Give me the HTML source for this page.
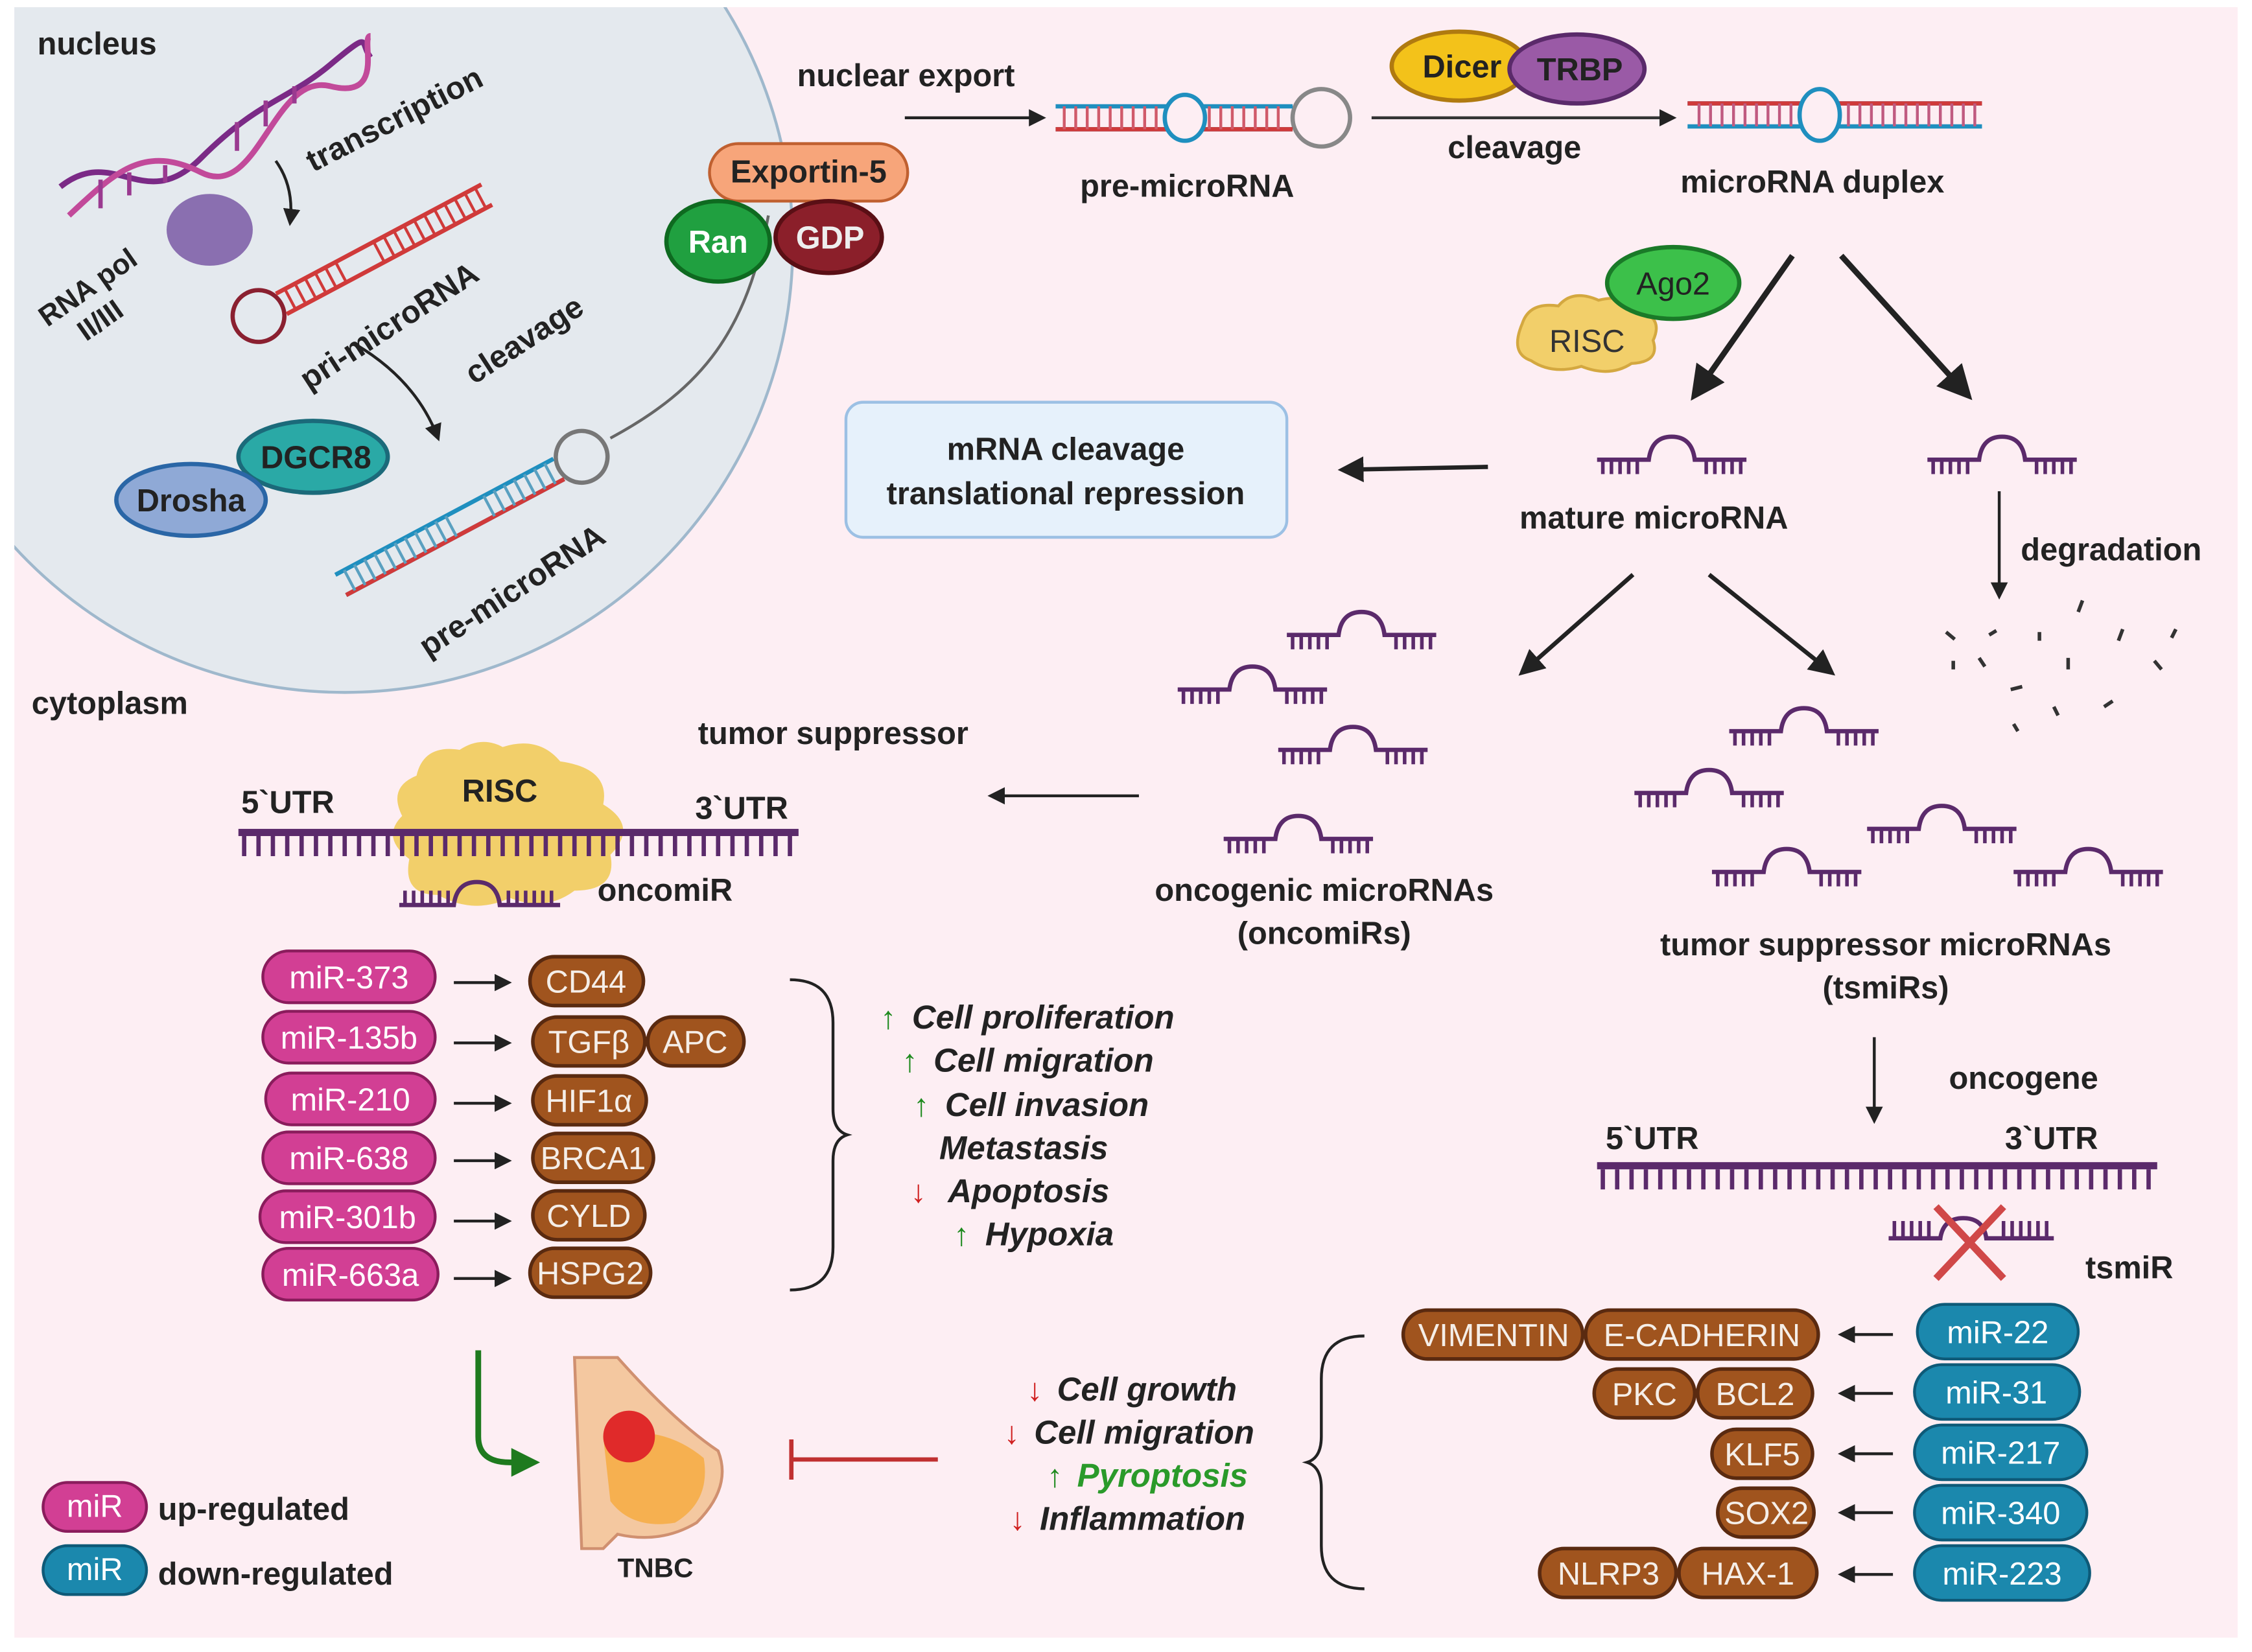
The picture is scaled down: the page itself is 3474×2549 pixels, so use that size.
<!DOCTYPE html>
<html><head><meta charset="utf-8"><style>
html,body{margin:0;padding:0;background:#fff}
svg{display:block}
text{font-family:"Liberation Sans",sans-serif}
</style></head><body>
<svg width="3474" height="2549" viewBox="0 0 1568 1150" preserveAspectRatio="none" xmlns="http://www.w3.org/2000/svg">
<defs>
<marker id="ah" viewBox="0 0 10 10" refX="8" refY="5" markerWidth="6" markerHeight="6" orient="auto"><path d="M0,0L10,5L0,10z" fill="#222"/></marker>
<marker id="ahg" viewBox="0 0 10 10" refX="8" refY="5" markerWidth="5" markerHeight="5" orient="auto"><path d="M0,0L10,5L0,10z" fill="#1e7a1e"/></marker>
<clipPath id="pc"><rect x="10" y="5" width="1548" height="1135"/></clipPath>
<g id="mir">
<path d="M0,12 H36 Q38,-4 52,-4 Q66,-4 68,12 H104" fill="none" stroke="#5b2a6b" stroke-width="3"/>
<path d="M4,12v10M10,12v10M16,12v10M22,12v10M28,12v10M76,12v10M82,12v10M88,12v10M94,12v10M100,12v10" stroke="#5b2a6b" stroke-width="2.5"/>
</g>
<g id="utr">
<rect x="0" y="0" width="390" height="5" fill="#5b2a6b"/>
<path d="M4,5v14M14,5v14M24,5v14M34,5v14M44,5v14M54,5v14M64,5v14M74,5v14M84,5v14M94,5v14M104,5v14M114,5v14M124,5v14M134,5v14M144,5v14M154,5v14M164,5v14M174,5v14M184,5v14M194,5v14M204,5v14M214,5v14M224,5v14M234,5v14M244,5v14M254,5v14M264,5v14M274,5v14M284,5v14M294,5v14M304,5v14M314,5v14M324,5v14M334,5v14M344,5v14M354,5v14M364,5v14M374,5v14M384,5v14" stroke="#5b2a6b" stroke-width="3"/>
</g>
</defs>
<rect x="0" y="0" width="1568" height="1150" fill="#fff"/>
<rect x="10" y="5" width="1548" height="1135" fill="#fdeef3"/>
<circle cx="240" cy="170" r="312" fill="#e4e9ee" stroke="#9fb8cc" stroke-width="2" clip-path="url(#pc)"/>

<g font-weight="bold" fill="#222" font-size="22">
<text x="26" y="38">nucleus</text>
<text x="22" y="497">cytoplasm</text>
<text x="555" y="60">nuclear export</text>
<text x="752" y="137">pre-microRNA</text>
<text x="1008" y="110">cleavage</text>
<text x="1170" y="134">microRNA duplex</text>
<text x="1058" y="368">mature microRNA</text>
<text x="1407" y="390">degradation</text>
<text x="486" y="518">tumor suppressor</text>
<text x="168" y="566">5`UTR</text>
<text x="484" y="570">3`UTR</text>
<text x="416" y="627">oncomiR</text>
<text x="922" y="627" text-anchor="middle">oncogenic microRNAs</text>
<text x="922" y="657" text-anchor="middle">(oncomiRs)</text>
<text x="1313" y="665" text-anchor="middle">tumor suppressor microRNAs</text>
<text x="1313" y="695" text-anchor="middle">(tsmiRs)</text>
<text x="1357" y="758">oncogene</text>
<text x="1118" y="800">5`UTR</text>
<text x="1396" y="800">3`UTR</text>
<text x="1452" y="890">tsmiR</text>
<text x="110" y="1058">up-regulated</text>
<text x="110" y="1103">down-regulated</text>
<text x="430" y="1098" font-size="19">TNBC</text>
<text transform="translate(218,120) rotate(-27)">transcription</text>
<text transform="translate(215,272) rotate(-33)">pri-microRNA</text>
<text transform="translate(330,268) rotate(-33)">cleavage</text>
<text transform="translate(298,458) rotate(-33)">pre-microRNA</text>
<text transform="translate(33,228) rotate(-35)" font-size="20">RNA pol</text>
<text transform="translate(60,238) rotate(-35)" font-size="20">II/III</text>
</g>

<!-- DNA -->
<path d="M42,130 C80,100 100,150 140,110 S200,70 230,45 S250,30 258,40" fill="none" stroke="#7b2a86" stroke-width="4"/>
<path d="M48,150 C80,120 100,100 140,120 S190,50 230,60 S250,25 258,25" fill="none" stroke="#c24a9a" stroke-width="4"/>
<path d="M70,125v20M90,120v16M115,115v12M165,85v20M185,70v18M205,60v12" stroke="#9a3a90" stroke-width="3"/>
<ellipse cx="146" cy="160" rx="30" ry="25" fill="#8a6fb0"/>
<path d="M192,112 Q205,130 202,155" fill="none" stroke="#222" stroke-width="2" marker-end="url(#ah)"/>
<path d="M248,240 Q290,265 305,305" fill="none" stroke="#222" stroke-width="2" marker-end="url(#ah)"/>
<!-- pri-microRNA hairpin -->
<g transform="translate(180,220) rotate(-28)">
<circle cx="0" cy="0" r="18" fill="none" stroke="#8a2030" stroke-width="3"/>
<path d="M18,-8 H180 M18,8 H180" stroke="#d03a3a" stroke-width="3"/>
<path d="M25,-8v16M33,-8v16M41,-8v16M49,-8v16M57,-8v16M65,-8v16M95,-8v16M103,-8v16M111,-8v16M119,-8v16M127,-8v16M135,-8v16M143,-8v16M151,-8v16M159,-8v16M167,-8v16M175,-8v16" stroke="#d03a3a" stroke-width="2"/>
</g>
<!-- pre-microRNA in nucleus -->
<g transform="translate(405,318) rotate(-28)">
<circle cx="0" cy="0" r="18" fill="none" stroke="#777" stroke-width="3"/>
<path d="M-18,-8 H-190 M-18,8 H-190" stroke="#1f8fbf" stroke-width="3"/>
<path d="M-18,8 H-190" stroke="#d03a3a" stroke-width="3"/>
<path d="M-25,-8v16M-33,-8v16M-41,-8v16M-49,-8v16M-57,-8v16M-65,-8v16M-73,-8v16M-103,-8v16M-111,-8v16M-119,-8v16M-127,-8v16M-135,-8v16M-143,-8v16M-151,-8v16M-159,-8v16M-167,-8v16M-175,-8v16M-183,-8v16" stroke="#5aa0c0" stroke-width="2"/>
</g>
<path d="M425,305 C490,270 520,230 535,150" fill="none" stroke="#666" stroke-width="2"/>
<!-- Drosha DGCR8 -->
<ellipse cx="218" cy="318" rx="52" ry="25" fill="#2aa9a6" stroke="#1b6a7a" stroke-width="3"/>
<text x="220" y="326" font-size="22" font-weight="bold" text-anchor="middle" fill="#222">DGCR8</text>
<ellipse cx="133" cy="348" rx="52" ry="25" fill="#8fa9d6" stroke="#2a66a6" stroke-width="3"/>
<text x="133" y="356" font-size="22" font-weight="bold" text-anchor="middle" fill="#222">Drosha</text>
<!-- Exportin Ran GDP -->
<rect x="494" y="100" width="138" height="40" rx="20" fill="#f7a57a" stroke="#c06030" stroke-width="2"/>
<text x="563" y="127" font-size="22" font-weight="bold" text-anchor="middle" fill="#222">Exportin-5</text>
<ellipse cx="500" cy="168" rx="36" ry="28" fill="#20a040" stroke="#0e6a20" stroke-width="3"/>
<text x="500" y="176" font-size="22" font-weight="bold" text-anchor="middle" fill="#fff">Ran</text>
<ellipse cx="577" cy="165" rx="37" ry="25" fill="#8b1f2a" stroke="#5a0f15" stroke-width="3"/>
<text x="578" y="173" font-size="22" font-weight="bold" text-anchor="middle" fill="#eee">GDP</text>
<line x1="630" y1="82" x2="726" y2="82" stroke="#222" stroke-width="2" marker-end="url(#ah)"/>
<!-- cytoplasm pre-microRNA -->
<g transform="translate(920,82)">
<circle cx="0" cy="0" r="20" fill="none" stroke="#888" stroke-width="3"/>
<path d="M-20,-8 H-185 M-20,8 H-185" stroke="#1f8fbf" stroke-width="3"/>
<path d="M-20,8 H-185" stroke="#d03a3a" stroke-width="3"/>
<path d="M-30,-8v16M-38,-8v16M-46,-8v16M-54,-8v16M-62,-8v16M-70,-8v16M-78,-8v16M-115,-8v16M-123,-8v16M-131,-8v16M-139,-8v16M-147,-8v16M-155,-8v16M-163,-8v16M-171,-8v16M-179,-8v16" stroke="#d05a6a" stroke-width="2"/>
<ellipse cx="-95" cy="0" rx="14" ry="16" fill="#fdeef3" stroke="#1f8fbf" stroke-width="3"/>
</g>
<!-- Dicer TRBP -->
<ellipse cx="1016" cy="46" rx="47" ry="24" fill="#f3c21a" stroke="#b07a10" stroke-width="3"/>
<text x="1018" y="54" font-size="22" font-weight="bold" text-anchor="middle" fill="#222">Dicer</text>
<ellipse cx="1098" cy="48" rx="47" ry="24" fill="#9a5aa6" stroke="#5a2a6a" stroke-width="3"/>
<text x="1100" y="56" font-size="22" font-weight="bold" text-anchor="middle" fill="#222">TRBP</text>
<line x1="955" y1="82" x2="1165" y2="82" stroke="#333" stroke-width="2" marker-end="url(#ah)"/>
<!-- duplex -->
<g transform="translate(1175,72)">
<path d="M0,0 H205 M0,16 H205" stroke="#1f8fbf" stroke-width="3"/>
<path d="M0,0 H205" stroke="#d03a3a" stroke-width="3"/>
<path d="M8,0v16M16,0v16M24,0v16M32,0v16M40,0v16M48,0v16M56,0v16M64,0v16M72,0v16M112,0v16M120,0v16M128,0v16M136,0v16M144,0v16M152,0v16M160,0v16M168,0v16M176,0v16M184,0v16M192,0v16M200,0v16" stroke="#c05a80" stroke-width="2"/>
<ellipse cx="92" cy="8" rx="14" ry="18" fill="#fdeef3" stroke="#1f8fbf" stroke-width="3"/>
</g>
<!-- Ago2 RISC -->
<path d="M1060,225 q5,-15 25,-12 q10,-12 28,-4 q20,-5 30,8 q15,5 8,20 q5,15 -15,16 q-15,10 -35,2 q-20,6 -35,-4 q-15,-5 -6,-26z" fill="#f2cf6a" stroke="#d4a840" stroke-width="2"/>
<text x="1105" y="245" font-size="22" text-anchor="middle" fill="#333">RISC</text>
<ellipse cx="1165" cy="197" rx="46" ry="25" fill="#3cc04a" stroke="#1a7a28" stroke-width="3"/>
<text x="1165" y="205" font-size="22" text-anchor="middle" fill="#222">Ago2</text>
<line x1="1248" y1="178" x2="1180" y2="275" stroke="#222" stroke-width="4" marker-end="url(#ah)"/>
<line x1="1282" y1="178" x2="1370" y2="275" stroke="#222" stroke-width="4" marker-end="url(#ah)"/>
<use href="#mir" x="1112" y="308"/>
<use href="#mir" x="1342" y="308"/>
<!-- mRNA box -->
<rect x="589" y="280" width="307" height="94" rx="12" fill="#e6f1fb" stroke="#9cc0e4" stroke-width="2"/>
<text x="742" y="320" font-size="22" font-weight="bold" text-anchor="middle" fill="#222">mRNA cleavage</text>
<text x="742" y="351" font-size="22" font-weight="bold" text-anchor="middle" fill="#222">translational repression</text>
<line x1="1036" y1="325" x2="935" y2="327" stroke="#222" stroke-width="3" marker-end="url(#ah)"/>
<line x1="1392" y1="342" x2="1392" y2="415" stroke="#222" stroke-width="2" marker-end="url(#ah)"/>
<!-- degradation fragments -->
<g stroke="#333" stroke-width="2.5" fill="none">
<path d="M1450,418l-3,8M1355,440l6,5M1385,442l5,-3M1420,440l0,6M1478,438l-3,8M1515,438l-3,6M1360,460l0,6M1378,458l4,6M1440,458l0,8M1500,460l5,6M1400,480l8,-2M1430,492l3,6M1465,492l6,-4M1402,504l3,5"/>
</g>
<line x1="1137" y1="400" x2="1060" y2="468" stroke="#222" stroke-width="3" marker-end="url(#ah)"/>
<line x1="1190" y1="400" x2="1275" y2="468" stroke="#222" stroke-width="3" marker-end="url(#ah)"/>
<use href="#mir" x="896" y="430"/>
<use href="#mir" x="820" y="468"/>
<use href="#mir" x="890" y="510"/>
<use href="#mir" x="852" y="572"/>
<use href="#mir" x="1204" y="497"/>
<use href="#mir" x="1138" y="540"/>
<use href="#mir" x="1300" y="565"/>
<use href="#mir" x="1192" y="595"/>
<use href="#mir" x="1402" y="595"/>
<line x1="793" y1="554" x2="690" y2="554" stroke="#222" stroke-width="2" marker-end="url(#ah)"/>
<!-- RISC oncomiR -->
<path d="M290,540 q5,-22 30,-18 q15,-10 30,-2 q25,-8 40,10 q35,5 30,30 q25,15 5,35 q5,25 -25,25 q-20,15 -45,5 q-25,12 -50,-2 q-25,0 -20,-25 q-20,-15 -5,-30 q-10,-20 10,-28z" fill="#f2cf6a"/>
<text x="348" y="558" font-size="22" font-weight="bold" text-anchor="middle" fill="#222">RISC</text>
<use href="#utr" x="166" y="577"/>
<g transform="translate(278,608)">
<path d="M0,22 H38 Q40,6 54,6 Q68,6 70,22 H112" fill="none" stroke="#5b2a6b" stroke-width="3"/>
<path d="M4,12v10M10,12v10M16,12v10M22,12v10M28,12v10M34,12v10M76,12v10M82,12v10M88,12v10M94,12v10M100,12v10M106,12v10" stroke="#5b2a6b" stroke-width="2.5"/>
</g>
<!-- pink pills -->
<g font-size="22" text-anchor="middle">
<g fill="#d23f94" stroke="#8a1c5c" stroke-width="2">
<rect x="183" y="662" width="120" height="36" rx="18"/>
<rect x="183" y="704" width="120" height="36" rx="18"/>
<rect x="185" y="747" width="118" height="36" rx="18"/>
<rect x="183" y="788" width="120" height="36" rx="18"/>
<rect x="181" y="829" width="122" height="36" rx="18"/>
<rect x="183" y="869" width="122" height="36" rx="18"/>
</g>
<g fill="#fff">
<text x="243" y="688">miR-373</text><text x="243" y="730">miR-135b</text><text x="244" y="773">miR-210</text>
<text x="243" y="814">miR-638</text><text x="242" y="855">miR-301b</text><text x="244" y="895">miR-663a</text>
</g>
<g stroke="#222" stroke-width="2" marker-end="url(#ah)">
<line x1="316" y1="684" x2="354" y2="684"/><line x1="316" y1="726" x2="354" y2="726"/>
<line x1="316" y1="768" x2="354" y2="768"/><line x1="316" y1="808" x2="354" y2="808"/>
<line x1="316" y1="850" x2="354" y2="850"/><line x1="316" y1="890" x2="354" y2="890"/>
</g>
<g fill="#a0541e" stroke="#5a2a10" stroke-width="2.5">
<rect x="369" y="666" width="79" height="34" rx="17"/>
<rect x="371" y="708" width="78" height="34" rx="17"/>
<rect x="451" y="708" width="67" height="34" rx="17"/>
<rect x="371" y="749" width="79" height="34" rx="17"/>
<rect x="371" y="789" width="84" height="34" rx="17"/>
<rect x="371" y="829" width="78" height="34" rx="17"/>
<rect x="369" y="869" width="84" height="34" rx="17"/>
</g>
<g fill="#f5eee8">
<text x="408" y="691">CD44</text><text x="410" y="733">TGFβ</text><text x="484" y="733">APC</text>
<text x="410" y="774">HIF1α</text><text x="413" y="814">BRCA1</text><text x="410" y="854">CYLD</text><text x="411" y="894">HSPG2</text>
</g>
</g>
<path d="M550,682 q30,0 30,30 v60 q0,15 10,18 q-10,3 -10,18 v60 q0,30 -30,30" fill="none" stroke="#222" stroke-width="2"/>
<g font-size="23" font-style="italic" font-weight="bold" fill="#222">
<text x="635" y="716">Cell proliferation</text>
<text x="650" y="746">Cell migration</text>
<text x="658" y="777">Cell invasion</text>
<text x="654" y="807">Metastasis</text>
<text x="660" y="837">Apoptosis</text>
<text x="686" y="867">Hypoxia</text>
</g>
<g font-size="22" font-weight="bold" fill="#1e8a1e"><text x="613" y="716">↑</text><text x="628" y="746">↑</text><text x="636" y="777">↑</text><text x="664" y="867">↑</text></g>
<text x="634" y="837" font-size="22" font-weight="bold" fill="#d02020">↓</text>
<!-- green arrow to TNBC -->
<path d="M333,940 V1000 Q333,1018 355,1018 H372" fill="none" stroke="#1e7a1e" stroke-width="4" marker-end="url(#ahg)"/>
<!-- breast -->
<path d="M400,945 L430,945 Q470,990 500,1010 Q510,1035 485,1060 Q460,1075 430,1068 L420,1078 L405,1078 Z" fill="#f4c8a0" stroke="#d09070" stroke-width="2"/>
<path d="M420,1000 Q460,990 490,1015 Q495,1045 470,1060 Q440,1065 425,1045 Z" fill="#f6b050"/>
<circle cx="438" cy="1000" r="18" fill="#e02a2a"/>
<!-- inhibition -->
<line x1="653" y1="1016" x2="551" y2="1016" stroke="#c03030" stroke-width="3"/>
<line x1="551" y1="1002" x2="551" y2="1030" stroke="#c03030" stroke-width="3"/>
<g font-size="23" font-style="italic" font-weight="bold" fill="#222">
<text x="736" y="975">Cell growth</text>
<text x="720" y="1005">Cell migration</text>
<text x="724" y="1065">Inflammation</text>
</g>
<text x="750" y="1035" font-size="23" font-style="italic" font-weight="bold" fill="#2a9a2a">Pyroptosis</text>
<g font-size="22" font-weight="bold" fill="#d02020"><text x="715" y="975">↓</text><text x="699" y="1005">↓</text><text x="703" y="1065">↓</text></g>
<text x="729" y="1035" font-size="22" font-weight="bold" fill="#1e8a1e">↑</text>
<path d="M950,930 q-30,0 -30,30 v40 q0,15 -10,18 q10,3 10,18 v40 q0,30 30,30" fill="none" stroke="#222" stroke-width="2"/>
<!-- oncogene UTR -->
<use href="#utr" x="1112" y="809" transform="translate(0,0)"/>
<line x1="1305" y1="722" x2="1305" y2="780" stroke="#222" stroke-width="2" marker-end="url(#ah)"/>
<g transform="translate(1315,840)">
<path d="M0,22 H36 Q38,8 52,8 Q66,8 68,22 H115" fill="none" stroke="#5b2a6b" stroke-width="3"/>
<path d="M4,10v12M10,10v12M16,10v12M22,10v12M28,10v12M80,10v12M86,10v12M92,10v12M98,10v12M104,10v12M110,10v12" stroke="#5b2a6b" stroke-width="2.5"/>
</g>
<path d="M1348,840 L1395,890 M1395,840 L1348,890" stroke="#d04848" stroke-width="5"/>
<!-- blue pills -->
<g font-size="22" text-anchor="middle">
<g fill="#1b88ad" stroke="#0e5a78" stroke-width="2">
<rect x="1335" y="908" width="112" height="38" rx="19"/>
<rect x="1333" y="950" width="115" height="38" rx="19"/>
<rect x="1333" y="992" width="120" height="38" rx="19"/>
<rect x="1333" y="1034" width="120" height="38" rx="19"/>
<rect x="1333" y="1076" width="122" height="38" rx="19"/>
</g>
<g fill="#fff">
<text x="1391" y="935">miR-22</text><text x="1390" y="977">miR-31</text><text x="1393" y="1019">miR-217</text>
<text x="1393" y="1061">miR-340</text><text x="1394" y="1103">miR-223</text>
</g>
<g stroke="#222" stroke-width="2" marker-end="url(#ah)">
<line x1="1318" y1="929" x2="1282" y2="929"/><line x1="1318" y1="970" x2="1282" y2="970"/>
<line x1="1318" y1="1012" x2="1282" y2="1012"/><line x1="1318" y1="1053" x2="1282" y2="1053"/>
<line x1="1318" y1="1096" x2="1282" y2="1096"/>
</g>
<g fill="#a0541e" stroke="#5a2a10" stroke-width="2.5">
<rect x="977" y="912" width="125" height="34" rx="17"/>
<rect x="1104" y="912" width="162" height="34" rx="17"/>
<rect x="1110" y="953" width="70" height="34" rx="17"/>
<rect x="1182" y="953" width="80" height="34" rx="17"/>
<rect x="1192" y="995" width="70" height="34" rx="17"/>
<rect x="1196" y="1036" width="67" height="34" rx="17"/>
<rect x="1072" y="1078" width="95" height="34" rx="17"/>
<rect x="1169" y="1078" width="96" height="34" rx="17"/>
</g>
<g fill="#f5eee8">
<text x="1040" y="937">VIMENTIN</text><text x="1185" y="937">E-CADHERIN</text>
<text x="1145" y="978">PKC</text><text x="1222" y="978">BCL2</text>
<text x="1227" y="1020">KLF5</text><text x="1230" y="1061">SOX2</text>
<text x="1120" y="1103">NLRP3</text><text x="1217" y="1103">HAX-1</text>
</g>
<!-- legend -->
<rect x="30" y="1032" width="72" height="34" rx="17" fill="#d23f94" stroke="#8a1c5c" stroke-width="2"/>
<text x="66" y="1056" fill="#fff">miR</text>
<rect x="30" y="1076" width="72" height="34" rx="17" fill="#1b88ad" stroke="#0e5a78" stroke-width="2"/>
<text x="66" y="1100" fill="#fff">miR</text>
</g>
</svg>
</body></html>
